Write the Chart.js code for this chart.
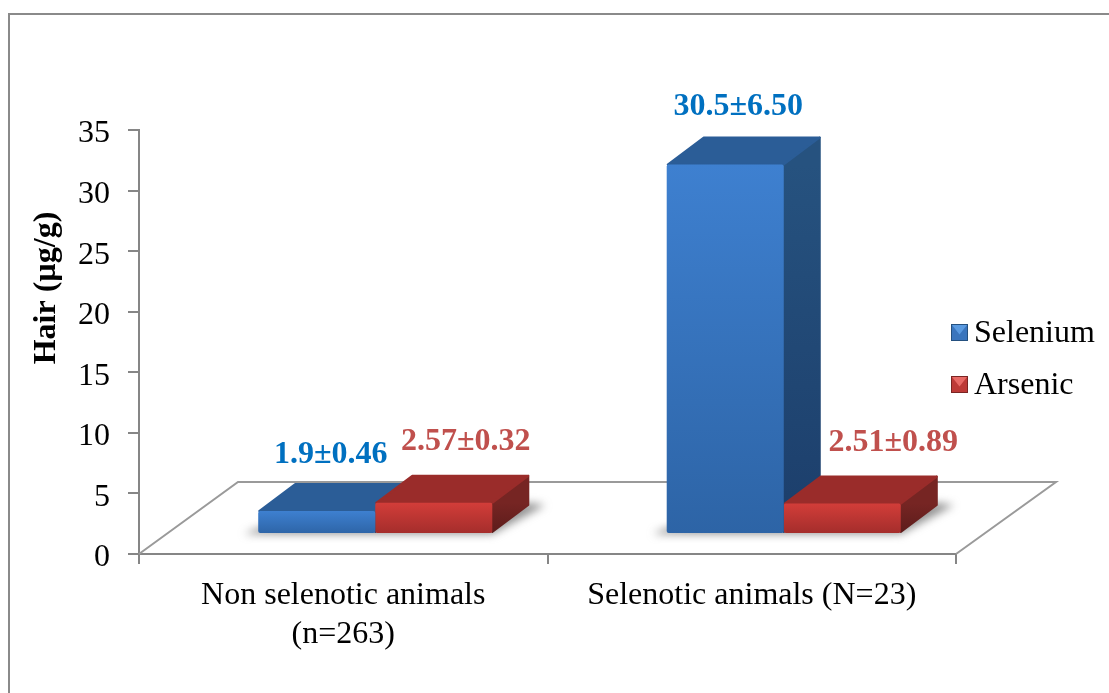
<!DOCTYPE html>
<html>
<head>
<meta charset="utf-8">
<style>
  html, body { margin: 0; background: #fff; }
  canvas { display: block; }
</style>
<script src="https://cdn.jsdelivr.net/npm/chart.js@4"></script>
</head>
<body>
<canvas id="hairChart" width="1109" height="693"></canvas>
<script>
const categories = [["Non selenotic animals", "(n=263)"], "Selenotic animals (N=23)"];
const seleniumValues = [1.9, 30.5];
const arsenicValues = [2.57, 2.51];
const seleniumLabels = ["1.9±0.46", "30.5±6.50"];
const arsenicLabels = ["2.57±0.32", "2.51±0.89"];
const yTicks = [0, 5, 10, 15, 20, 25, 30, 35];
const yTitle = "Hair (µg/g)";

const SERIF = "'Liberation Serif', 'Times New Roman', serif";
const AXIS_GREY = "#868686";

// fake 3D: bars stand in the middle of the floor, the faces go back by DEPTH
const SHIFT = { x: 32, y: -20 };
const DEPTH = { x: 37, y: -28 };
const FLOOR = { x: 99, y: -72 };

const looks = [
  {
    front: ["#3e80d0", "#2d64a6"], top: "#2b5d97", side: ["#26527f", "#1c3e6b"],
    text: "#0070C0", labelOffsets: [[14, -56], [13, -58]],
    marker: { light: "#5a9ae0", mid: "#3a75bd", dark: "#24507f" }
  },
  {
    front: ["#d23d39", "#a32d2b"], top: "#9a2c2a", side: ["#762523", "#5c1c1b"],
    text: "#C0504D", labelOffsets: [[32, -61], [51, -61]],
    marker: { light: "#e86a66", mid: "#bd3a37", dark: "#7a2523" }
  }
];

function poly(ctx, pts) {
  ctx.beginPath();
  pts.forEach((p, i) => i ? ctx.lineTo(p[0], p[1]) : ctx.moveTo(p[0], p[1]));
  ctx.closePath();
}

function frontFill(context) {
  const chart = context.chart;
  const look = looks[context.datasetIndex];
  if (!chart.chartArea) return look.front[0];
  const y = chart.scales.y;
  const g = chart.ctx.createLinearGradient(0, y.getPixelForValue(context.raw), 0, y.getPixelForValue(0));
  g.addColorStop(0, look.front[0]);
  g.addColorStop(1, look.front[1]);
  return g;
}

const scene3d = {
  id: "scene3d",
  beforeDraw(chart) {
    // frame of the picture: only top and left are visible
    const ctx = chart.ctx;
    ctx.save();
    ctx.strokeStyle = "#8a8a8a";
    ctx.lineWidth = 2;
    ctx.beginPath();
    ctx.moveTo(9, 693);
    ctx.lineTo(9, 14);
    ctx.lineTo(1109, 14);
    ctx.stroke();
    ctx.restore();
  },
  beforeDatasetsDraw(chart) {
    const ctx = chart.ctx;
    const a = chart.chartArea;
    ctx.save();
    ctx.strokeStyle = "#9a9a9a";
    ctx.lineWidth = 2;
    ctx.beginPath();
    ctx.moveTo(a.left, a.bottom);
    ctx.lineTo(a.left + FLOOR.x, a.bottom + FLOOR.y);
    ctx.lineTo(a.right + FLOOR.x + 1, a.bottom + FLOOR.y);
    ctx.lineTo(a.right, a.bottom);
    ctx.stroke();
    ctx.restore();

    ctx.save();
    ctx.translate(SHIFT.x, SHIFT.y);

    // soft shadows on the floor
    ctx.save();
    ctx.filter = "blur(4px)";
    ctx.fillStyle = "rgba(110,110,110,0.75)";
    const base = chart.scales.y.getPixelForValue(0);
    const n = categories.length;
    for (let i = 0; i < n; i++) {
      const l = chart.getDatasetMeta(0).data[i];
      const r = chart.getDatasetMeta(1).data[i];
      const x0 = l.x - l.width / 2, x1 = r.x + r.width / 2;
      poly(ctx, [[x0 - 14, base], [x1, base], [x1 + DEPTH.x + 16, base + DEPTH.y - 1], [x1 + DEPTH.x, base + DEPTH.y - 3], [x0, base - 6]]);
      ctx.fill();
    }
    ctx.restore();

    // top and side faces of every bar, the library draws the fronts after this
    chart.data.datasets.forEach((ds, di) => {
      const look = looks[di];
      chart.getDatasetMeta(di).data.forEach(bar => {
        const x0 = bar.x - bar.width / 2, x1 = bar.x + bar.width / 2;
        const yt = bar.y, yb = bar.base;
        const side = ctx.createLinearGradient(0, yt, 0, yb);
        side.addColorStop(0, look.side[0]);
        side.addColorStop(1, look.side[1]);
        ctx.fillStyle = side;
        ctx.strokeStyle = side;
        ctx.lineJoin = "round";
        ctx.lineWidth = 2;
        poly(ctx, [[x1, yt + 1], [x1 + DEPTH.x - 1, yt + DEPTH.y + 1], [x1 + DEPTH.x - 1, yb + DEPTH.y], [x1, yb - 1]]);
        ctx.fill();
        ctx.stroke();
        ctx.fillStyle = look.top;
        ctx.strokeStyle = look.top;
        poly(ctx, [[x0 + 1, yt], [x0 + DEPTH.x, yt + DEPTH.y + 1], [x1 + DEPTH.x - 1, yt + DEPTH.y + 1], [x1, yt]]);
        ctx.fill();
        ctx.stroke();
      });
    });
  },
  afterDatasetsDraw(chart) {
    const ctx = chart.ctx;
    ctx.restore();

    // value labels
    ctx.save();
    ctx.font = "bold 32px " + SERIF;
    ctx.textAlign = "center";
    ctx.textBaseline = "middle";
    chart.data.datasets.forEach((ds, di) => {
      ctx.fillStyle = looks[di].text;
      chart.getDatasetMeta(di).data.forEach((bar, i) => {
        const off = looks[di].labelOffsets[i];
        ctx.fillText(ds.valueLabels[i], bar.x + SHIFT.x + off[0], bar.y + SHIFT.y + off[1]);
      });
    });
    ctx.restore();

    // legend
    ctx.save();
    ctx.font = "32px " + SERIF;
    ctx.textAlign = "left";
    ctx.textBaseline = "middle";
    chart.data.datasets.forEach((ds, di) => {
      const m = looks[di].marker;
      const x = 951, y = 324 + di * 52, s = 17, c = s / 2;
      ctx.fillStyle = m.mid;
      ctx.fillRect(x, y, s, s);
      ctx.fillStyle = m.light;
      poly(ctx, [[x + 1, y + 1], [x + s - 1, y + 1], [x + c, y + c + 2]]);
      ctx.fill();
      ctx.strokeStyle = m.dark;
      ctx.lineWidth = 1;
      ctx.strokeRect(x + 0.5, y + 0.5, s - 1, s - 1);
      ctx.fillStyle = "#000";
      ctx.fillText(ds.label, 974, y + c + 1);
    });
    ctx.restore();

    // axis title sits above the middle of the axis in the original
    ctx.save();
    ctx.translate(47, 288);
    ctx.rotate(-Math.PI / 2);
    ctx.font = "bold 32px " + SERIF;
    ctx.textAlign = "center";
    ctx.textBaseline = "middle";
    ctx.fillStyle = "#000";
    ctx.fillText(yTitle, 0, 0);
    ctx.restore();
  }
};

new Chart(document.getElementById("hairChart"), {
  type: "bar",
  data: {
    labels: categories,
    datasets: [
      { label: "Selenium", data: seleniumValues, valueLabels: seleniumLabels, backgroundColor: frontFill, borderRadius: 2, borderSkipped: false, clip: false },
      { label: "Arsenic", data: arsenicValues, valueLabels: arsenicLabels, backgroundColor: frontFill, borderRadius: 2, borderSkipped: false, clip: false }
    ]
  },
  options: {
    responsive: false,
    animation: false,
    categoryPercentage: 0.573,
    barPercentage: 1,
    layout: { padding: { left: 0, right: 153, top: 130, bottom: 0 } },
    plugins: {
      legend: { display: false },
      tooltip: { enabled: false }
    },
    scales: {
      x: {
        afterFit(scale) { scale.height = 139; },
        border: { color: AXIS_GREY, width: 2 },
        grid: { drawOnChartArea: false, color: AXIS_GREY, lineWidth: 2, tickLength: 10 },
        ticks: {
          color: "#000",
          font: { family: SERIF, size: 32, lineHeight: 1.22 },
          padding: 12,
          autoSkip: false,
          maxRotation: 0
        }
      },
      y: {
        min: 0,
        max: 35,
        afterFit(scale) { scale.width = 139; },
        afterBuildTicks(scale) { scale.ticks = yTicks.map(value => ({ value })); },
        border: { color: AXIS_GREY, width: 2 },
        grid: { drawOnChartArea: false, color: AXIS_GREY, lineWidth: 2, tickLength: 11 },
        ticks: {
          color: "#000",
          // empty first line moves the number down a bit, like in the original
          callback: value => ["", String(value)],
          font: { family: SERIF, size: 32, lineHeight: "8px" },
          padding: 18
        }
      }
    }
  },
  plugins: [scene3d]
});
</script>
</body>
</html>
